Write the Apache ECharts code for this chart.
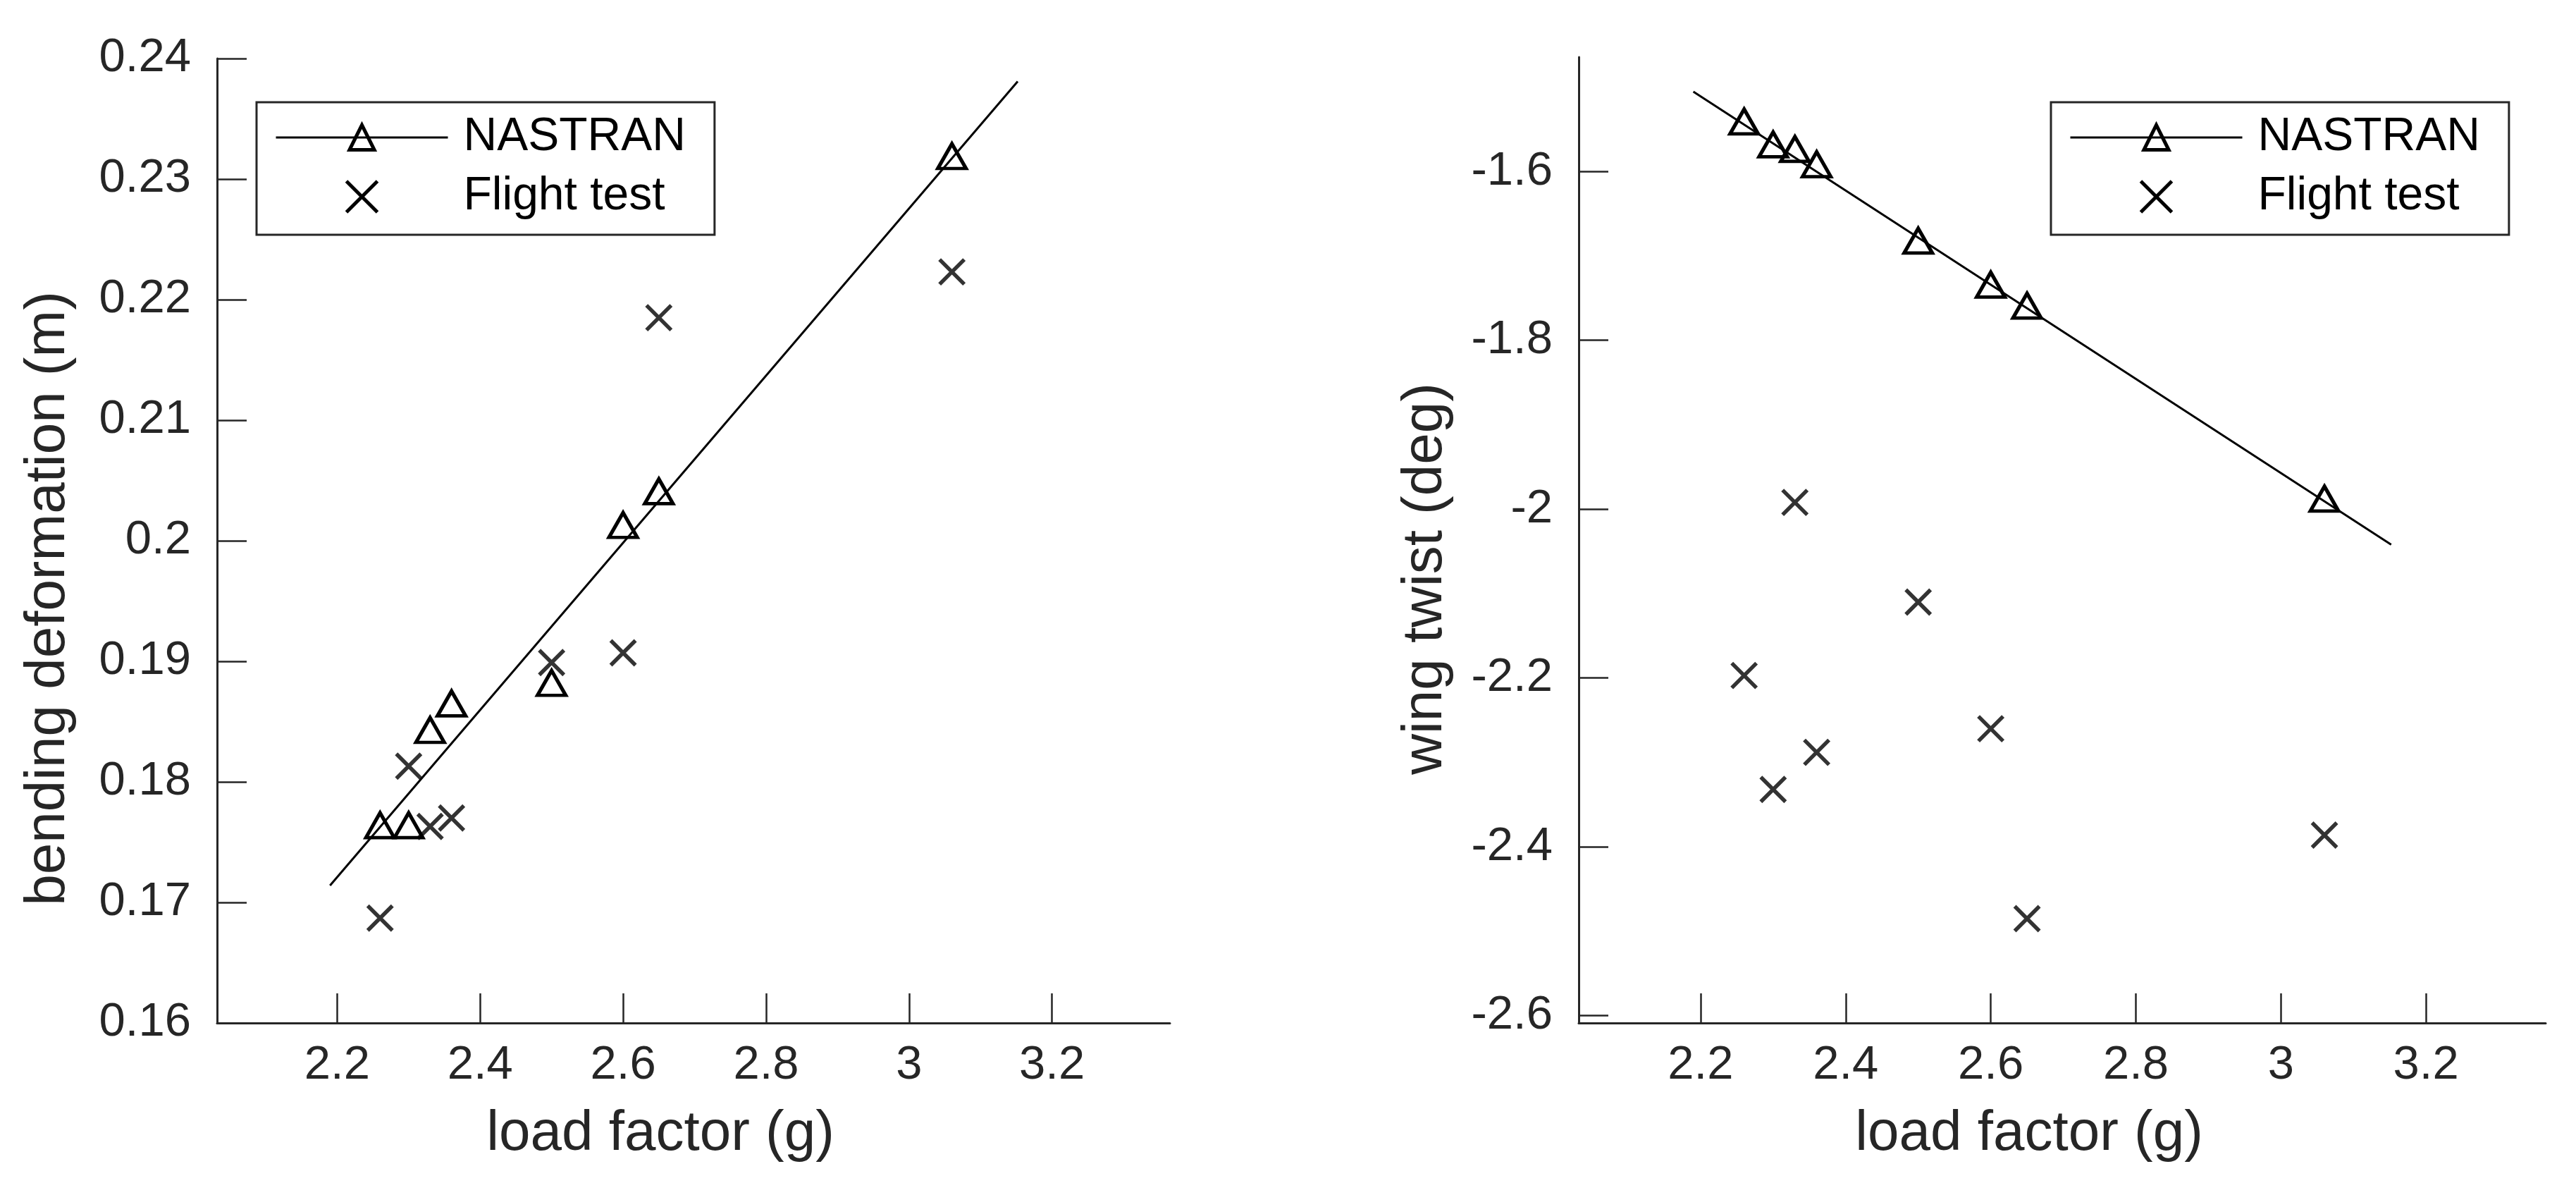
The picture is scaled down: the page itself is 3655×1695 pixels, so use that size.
<!DOCTYPE html>
<html>
<head>
<meta charset="utf-8">
<title>bending deformation / wing twist vs load factor</title>
<script src="https://cdn.jsdelivr.net/npm/echarts@6/dist/echarts.min.js"></script>
<style>
    html, body { margin: 0; padding: 0; background: #fff; }
    #main { width: 3655px; height: 1695px; }
</style>
</head>
<body>
<div id="main"></div>
<script>
// 载荷系数 (两张图共用)
var loadFactor = [2.26, 2.30, 2.33, 2.36, 2.50, 2.60, 2.65, 3.06];

// 左图: 弯曲变形 (m)
var bendNastran = [0.1764, 0.1764, 0.1843, 0.1865, 0.1882, 0.2013, 0.2041, 0.2319];
var bendFlight  = [0.1687, 0.1813, 0.1763, 0.1770, 0.1899, 0.1907, 0.2185, 0.2223];

// 右图: 扭转角 (deg)
var twistNastran = [-1.5408, -1.5680, -1.5734, -1.5915, -1.6820, -1.7341, -1.7590, -1.9876];
var twistFlight  = [-2.197, -2.332, -1.992, -2.288, -2.110, -2.260, -2.485, -2.386];

// NASTRAN 拟合直线端点
var fitLoad  = [2.19, 3.152];
var bendFit  = [0.1714, 0.2381];
var twistFit = [-1.5055, -2.042];

// 刻度
var loadTicks  = [2.2, 2.4, 2.6, 2.8, 3, 3.2];
var bendTicks  = [0.16, 0.17, 0.18, 0.19, 0.2, 0.21, 0.22, 0.23, 0.24];
var twistTicks = [-2.6, -2.4, -2.2, -2, -1.8, -1.6];

// 坐标范围
var loadRange  = [2.032, 3.365];
var bendRange  = [0.16, 0.24];
var twistRange = [-2.6086, -1.4645];

var font = 'Liberation Sans, Arial, sans-serif';
var axisColor = '#262626';
var crossPath = 'path://M0,0L10,10M10,0L0,10';

function pairs(xs, ys) {
    return xs.map(function (x, i) { return [x, ys[i]]; });
}

function fmt(v) {
    return String(+(+v).toFixed(3));
}

function xAxisOpt(gridIndex) {
    return {
        gridIndex: gridIndex,
        type: 'value',
        min: loadRange[0],
        max: loadRange[1],
        name: 'load factor (g)',
        nameLocation: 'middle',
        nameGap: 118,
        nameTextStyle: { fontSize: 80, color: axisColor, fontFamily: font, padding: [0, 94, 0, 0] },
        axisLine: { show: true, onZero: false, lineStyle: { color: axisColor, width: 3 } },
        axisTick: { show: true, inside: true, length: 42, customValues: loadTicks,
                    lineStyle: { color: axisColor, width: 2.5 } },
        axisLabel: { show: true, margin: 27, fontSize: 67, color: axisColor, fontFamily: font,
                     customValues: loadTicks, formatter: fmt },
        splitLine: { show: false }
    };
}

function yAxisOpt(gridIndex, name, range, ticks, gap, shift) {
    return {
        gridIndex: gridIndex,
        type: 'value',
        min: range[0],
        max: range[1],
        name: name,
        nameLocation: 'middle',
        nameGap: gap,
        nameTextStyle: { fontSize: 80, color: axisColor, fontFamily: font, padding: [0, shift, 0, 0] },
        axisLine: { show: true, onZero: false, lineStyle: { color: axisColor, width: 3 } },
        axisTick: { show: true, inside: true, length: 42, customValues: ticks,
                    lineStyle: { color: axisColor, width: 2.5 } },
        axisLabel: { show: true, margin: 37, fontSize: 67, color: axisColor, fontFamily: font,
                     customValues: ticks, formatter: fmt },
        splitLine: { show: false }
    };
}

function legendOpt(left) {
    return {
        left: left,
        top: 145,
        orient: 'vertical',
        data: ['NASTRAN', 'Flight test'],
        itemWidth: 244,
        itemHeight: 44,
        itemGap: 18,
        padding: [17, 41, 21, 26],
        borderColor: axisColor,
        borderWidth: 3,
        backgroundColor: '#fff',
        selectedMode: false,
        textStyle: { fontSize: 66, color: '#000', fontFamily: font, padding: [0, 0, 0, 17] },
        lineStyle: { color: '#000', width: 3, opacity: 1, type: 'solid' },
        itemStyle: { color: 'rgba(0,0,0,0)', borderColor: '#000', borderWidth: 5, opacity: 1 }
    };
}

function seriesFor(idx, nastran, flight, fit) {
    return [
        {
            // NASTRAN 三角形 (线隐藏, 只为图例带线)
            name: 'NASTRAN',
            type: 'line',
            xAxisIndex: idx,
            yAxisIndex: idx,
            data: pairs(loadFactor, nastran),
            symbol: 'triangle',
            symbolSize: [40, 35],
            showSymbol: true,
            showAllSymbol: true,
            lineStyle: { width: 0, opacity: 0 },
            itemStyle: { color: 'rgba(0,0,0,0)', borderColor: '#000', borderWidth: 5 },
            emphasis: { disabled: true },
            silent: true,
            z: 4
        },
        {
            // 拟合直线
            name: 'NASTRAN fit',
            type: 'line',
            xAxisIndex: idx,
            yAxisIndex: idx,
            data: pairs(fitLoad, fit),
            symbol: 'none',
            lineStyle: { color: '#000', width: 3 },
            emphasis: { disabled: true },
            silent: true,
            z: 3
        },
        {
            name: 'Flight test',
            type: 'scatter',
            xAxisIndex: idx,
            yAxisIndex: idx,
            data: pairs(loadFactor, flight),
            symbol: crossPath,
            symbolSize: 35,
            itemStyle: { color: 'rgba(0,0,0,0)', borderColor: '#000', borderWidth: 5.5 },
            emphasis: { disabled: true },
            silent: true,
            z: 4
        }
    ];
}

var myChart = echarts.init(document.getElementById('main'));
var option = {
    backgroundColor: '#fff',
    animation: false,
    textStyle: { fontFamily: font },
    grid: [
        { left: 308, top: 83, width: 1352, height: 1368, containLabel: false, outerBoundsMode: 'none' },
        { left: 2240, top: 81, width: 1372, height: 1370, containLabel: false, outerBoundsMode: 'none' }
    ],
    legend: [legendOpt(364), legendOpt(2910)],
    xAxis: [xAxisOpt(0), xAxisOpt(1)],
    yAxis: [
        yAxisOpt(0, 'bending deformation (m)', bendRange, bendTicks, 199, 164),
        yAxisOpt(1, 'wing twist (deg)', twistRange, twistTicks, 177, 110)
    ],
    series: seriesFor(0, bendNastran, bendFlight, bendFit)
        .concat(seriesFor(1, twistNastran, twistFlight, twistFit))
};
myChart.setOption(option);
</script>
</body>
</html>
